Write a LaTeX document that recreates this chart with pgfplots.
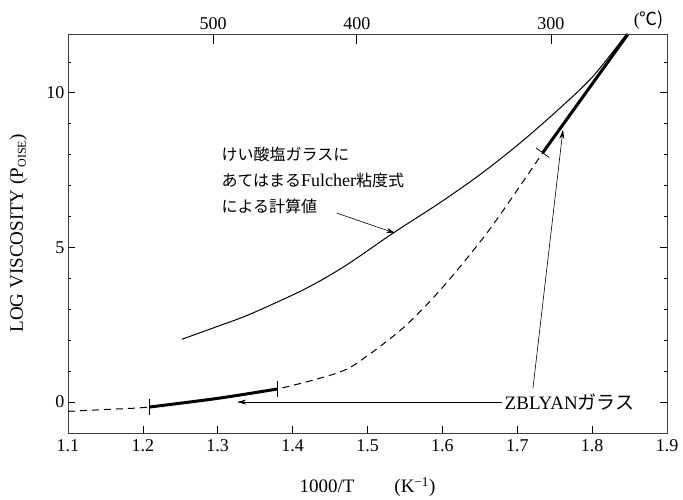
\documentclass[border=0pt]{standalone}
\usepackage{pgfplots}
\pgfplotsset{compat=1.18}
\usepackage{fontspec}
\setmainfont{Liberation Serif}
\newfontfamily\lser{Liberation Serif}
\newfontfamily\cjk{Noto Sans CJK JP}
\usetikzlibrary{arrows.meta}

\begin{document}
\begin{tikzpicture}[font=\fontsize{18}{21}\selectfont]
\useasboundingbox (-68pt,-67pt) rectangle (615pt,433pt);
\begin{axis}[
  at={(0,0)}, anchor=south west,
  scale only axis, width=599pt, height=399pt,
  xmin=1.1, xmax=1.9, ymin=-1, ymax=11.9,
  xtick={1.1,1.2,1.3,1.4,1.5,1.6,1.7,1.8,1.9},
  xticklabels={1.1,1.2,1.3,1.4,1.5,1.6,1.7,1.8,1.9},
  xtick pos=left,
  ytick={0,5,10},
  minor ytick={-1,1,2,3,4,6,7,8,9,11},
  major tick length=7pt, minor tick length=3.5pt,
  tick align=inside,
  axis line style={black!75, line width=0.6pt},
  tick style={black, line width=0.6pt},
  /pgf/number format/assume math mode=true,
  tick label style={font=\fontsize{18}{21}\selectfont},
  xticklabel style={yshift=-3pt},
  xlabel={1000/T\hspace{40pt}(K\textsuperscript{−1})},
  xlabel style={at={(axis description cs:0.5,-0.135)}, anchor=center, font=\fontsize{19}{22}\selectfont},
  ylabel={LOG VISCOSITY (P\raisebox{-0.35ex}{\fontsize{12}{12}\selectfont OISE})},
  ylabel style={at={(axis description cs:-0.083,0.5)}, anchor=center, font=\fontsize{19}{22}\selectfont},
]
% Fulcher calculated (solid)
\addplot[black, line width=1pt, smooth] coordinates {
 (1.252,2.03) (1.30,2.45) (1.343,2.84) (1.416,3.65) (1.47,4.40) (1.534,5.46)
 (1.597,6.45) (1.65,7.35) (1.70,8.30) (1.75,9.35) (1.80,10.50) (1.846,11.9)};
% ZBLYAN curve (dashed)
\addplot[black, line width=1pt, dash pattern=on 7pt off 5pt, smooth] coordinates {
 (1.1,-0.30) (1.15,-0.24) (1.209,-0.16) (1.30,0.12) (1.379,0.42) (1.463,0.97)
 (1.50,1.50) (1.55,2.45) (1.60,3.70) (1.663,5.58) (1.734,8.06)};
% measured ranges (thick)
\addplot[black, line width=3pt, smooth] coordinates {(1.209,-0.16) (1.30,0.12) (1.379,0.42)};
\addplot[black, line width=3pt] coordinates {(1.734,8.06) (1.848,11.9)};
\addplot[black, only marks, mark=|, mark size=8pt, line width=0.8pt] coordinates {(1.209,-0.16) (1.379,0.42)};
\addplot[black, only marks, mark=|, mark size=8pt, line width=0.8pt, mark options={rotate=54}] coordinates {(1.734,8.06)};
% annotations
\node[anchor=west, inner sep=0pt] at (axis cs:1.305,8.0) {{\cjk\fontsize{16}{19}\selectfont けい酸塩ガラスに}};
\node[anchor=west, inner sep=0pt] at (axis cs:1.305,7.16) {{\cjk\fontsize{16}{19}\selectfont あてはまる}{\lser\fontsize{18}{19}\selectfont Fulcher}{\cjk\fontsize{16}{19}\selectfont 粘度式}};
\node[anchor=west, inner sep=0pt] at (axis cs:1.305,6.32) {{\cjk\fontsize{16}{19}\selectfont による計算値}};
\draw[black, line width=0.6pt, -{Stealth[length=9pt,width=5pt]}] (axis cs:1.459,6.11) -- (axis cs:1.537,5.46);
\node[anchor=west, inner sep=0pt] at (axis cs:1.683,0) {{\lser\fontsize{19}{22}\selectfont ZBLYAN}{\cjk\fontsize{19}{22}\selectfont ガラス}};
\draw[black, line width=0.6pt, -{Stealth[length=9pt,width=5pt]}] (axis cs:1.68,0) -- (axis cs:1.326,0.0);
\draw[black, line width=0.6pt, -{Stealth[length=9pt,width=5pt]}] (axis cs:1.721,0.45) -- (axis cs:1.761,8.8);
\end{axis}
\begin{axis}[
  at={(0,0)}, anchor=south west,
  scale only axis, width=599pt, height=399pt,
  xmin=1.1, xmax=1.9, ymin=-1, ymax=11.9,
  axis x line*=top, axis y line=none,
  axis line style={black!75, line width=0.6pt},
  xtick={1.2937,1.4857,1.7450},
  xticklabels={500,400,300},
  xtick align=inside,
  major tick length=10pt,
  tick style={black, line width=0.6pt},
  tick label style={font=\fontsize{18}{21}\selectfont},
  xticklabel style={yshift=1pt},
  extra x ticks={1.876},
  extra x tick labels={({\cjk ℃})},
  extra x tick style={major tick length=0pt},
]
\addplot[draw=none] coordinates {(1.5,0)};
\end{axis}
\end{tikzpicture}
\end{document}
